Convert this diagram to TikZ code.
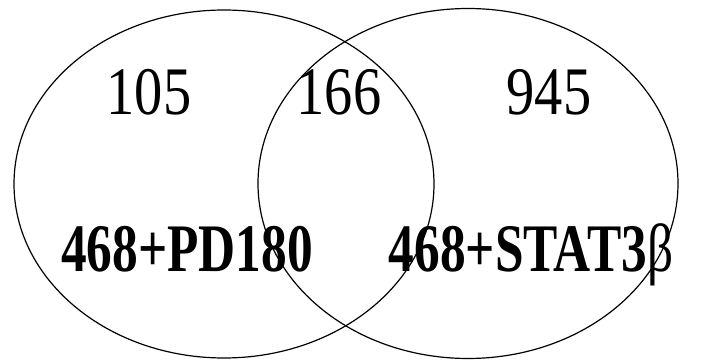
\documentclass[tikz,border=0pt]{standalone}
\usepackage{fontspec}
\setmainfont{Liberation Serif}
\newfontfamily\numfont[FakeStretch=0.83]{Liberation Serif}
\newfontfamily\labfont[FakeStretch=0.755]{Liberation Serif}
\usetikzlibrary{shapes.geometric}
\begin{document}
\begin{tikzpicture}[x=1pt,y=1pt,
    setshape/.style={draw,ellipse,line width=1.2pt,inner sep=0pt,minimum width=420pt,minimum height=348pt},
    count/.style={anchor=base,inner sep=0pt,font=\numfont\fontsize{68}{68}\selectfont},
    setlabel/.style={anchor=base,inner sep=0pt,font=\labfont\bfseries\fontsize{68}{68}\selectfont}]
    \useasboundingbox (0,0) rectangle (702,364);
    \node[setshape] (setA) at (224,180) {};
    \node[setshape,minimum height=350pt] (setB) at (468,180.5) {};
    \node[count] (onlyA) at (149,249) {105};
    \node[count] (both) at (339,249) {166};
    \node[count] (onlyB) at (549,249) {945};
    \node[setlabel] (nameA) at (187,92) {468+PD180};
    \node[setlabel] (nameB) at (531,92) {468+STAT3{\mdseries β}};
  \end{tikzpicture}
\end{document}
